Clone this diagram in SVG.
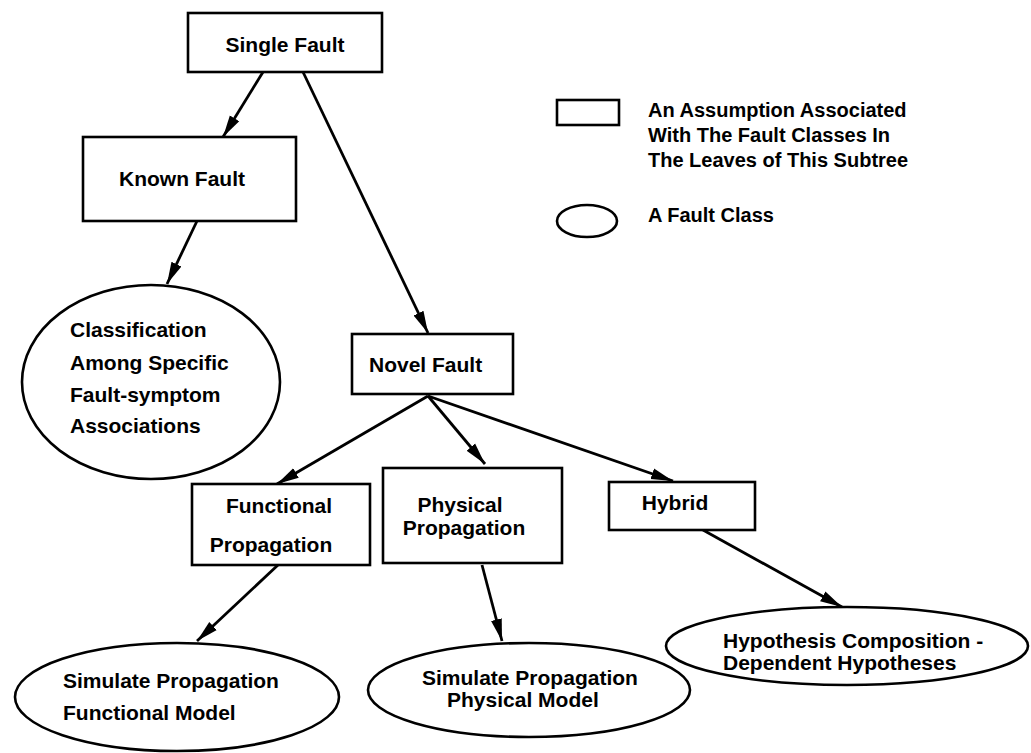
<svg xmlns="http://www.w3.org/2000/svg" width="1031" height="753" viewBox="0 0 1031 753">
  <style>
    .box { fill: #fff; stroke: #000; stroke-width: 2.6; }
    .cls { fill: #fff; stroke: #000; stroke-width: 2.6; }
    .edge { fill: none; stroke: #000; stroke-width: 2.8; marker-end: url(#arrow); }
    text { font-family: "Liberation Sans", Arial, Helvetica, sans-serif; font-weight: bold; font-size: 21px; fill: #000; }
    .mid { text-anchor: middle; }
    .legend-text { font-size: 20px; }
  </style>
  <defs>
    <marker id="arrow" markerUnits="userSpaceOnUse" markerWidth="24" markerHeight="14" refX="22" refY="7" orient="auto">
      <path d="M0,1.5 L22,7 L0,12.5 Z" fill="#000"/>
    </marker>
  </defs>
  <rect width="1031" height="753" fill="#fff"/>

  <!-- connectors -->
  <g id="edges">
    <line class="edge" x1="263" y1="72" x2="223" y2="137"/>
    <line class="edge" x1="303" y1="72" x2="428" y2="333"/>
    <line class="edge" x1="197" y1="221" x2="167" y2="284"/>
    <line class="edge" x1="428" y1="396" x2="277" y2="484"/>
    <line class="edge" x1="428" y1="396" x2="485" y2="464"/>
    <line class="edge" x1="428" y1="396" x2="673" y2="481"/>
    <line class="edge" x1="278" y1="565" x2="197" y2="641"/>
    <line class="edge" x1="482" y1="565" x2="502" y2="641"/>
    <line class="edge" x1="703" y1="530" x2="842" y2="607"/>
  </g>

  <g id="single-fault">
    <rect class="box" x="188" y="13" width="194" height="59"/>
    <text x="285" y="52" class="mid">Single Fault</text>
  </g>

  <g id="known-fault">
    <rect class="box" x="83" y="137" width="213" height="84"/>
    <text x="182" y="186" class="mid">Known Fault</text>
  </g>

  <g id="classification">
    <ellipse class="cls" cx="151" cy="382" rx="129" ry="97"/>
    <text x="70" y="337">Classification</text>
    <text x="70" y="370">Among Specific</text>
    <text x="70" y="402">Fault-symptom</text>
    <text x="70" y="433">Associations</text>
  </g>

  <g id="novel-fault">
    <rect class="box" x="352" y="334" width="161" height="60"/>
    <text x="369" y="372">Novel Fault</text>
  </g>

  <g id="functional-propagation">
    <rect class="box" x="192" y="484" width="178" height="81"/>
    <text x="279" y="513" class="mid">Functional</text>
    <text x="271" y="552" class="mid">Propagation</text>
  </g>

  <g id="physical-propagation">
    <rect class="box" x="383" y="468" width="179" height="95"/>
    <text x="460" y="512" class="mid">Physical</text>
    <text x="464" y="535" class="mid">Propagation</text>
  </g>

  <g id="hybrid">
    <rect class="box" x="609" y="482" width="146" height="48"/>
    <text x="675" y="510" class="mid">Hybrid</text>
  </g>

  <g id="simulate-functional">
    <ellipse class="cls" cx="177" cy="697" rx="162" ry="54"/>
    <text x="63" y="688">Simulate Propagation</text>
    <text x="63" y="720">Functional Model</text>
  </g>

  <g id="simulate-physical">
    <ellipse class="cls" cx="529" cy="690" rx="161" ry="47"/>
    <text x="422" y="685">Simulate Propagation</text>
    <text x="447" y="707">Physical Model</text>
  </g>

  <g id="hypothesis-composition">
    <ellipse class="cls" cx="847" cy="646" rx="181" ry="39"/>
    <text x="723" y="648">Hypothesis Composition -</text>
    <text x="723" y="670">Dependent Hypotheses</text>
  </g>

  <g id="legend">
    <rect class="box" x="557" y="100" width="62" height="25"/>
    <text x="648" y="117" class="legend-text">An Assumption Associated</text>
    <text x="648" y="142" class="legend-text">With The Fault Classes In</text>
    <text x="648" y="167" class="legend-text">The Leaves of This Subtree</text>
    <ellipse class="cls" cx="587" cy="221" rx="30" ry="16"/>
    <text x="648" y="222" class="legend-text">A Fault Class</text>
  </g>
</svg>
